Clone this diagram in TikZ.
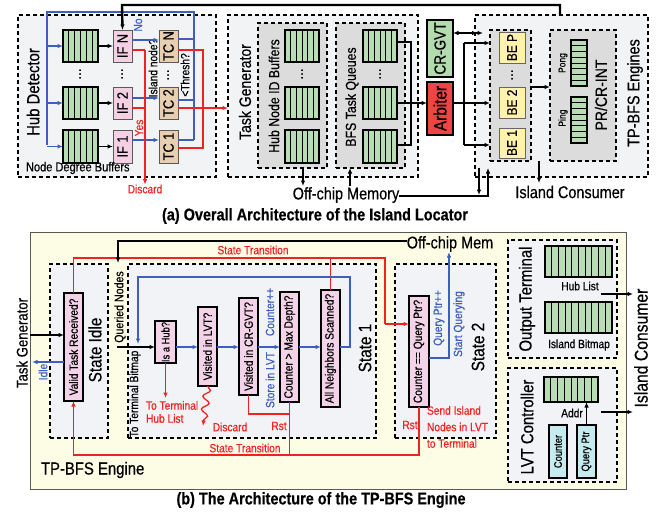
\documentclass[tikz,border=0pt]{standalone}
\usepackage{fontspec}
\setmainfont{Liberation Sans}[FakeStretch=0.85, FakeBold=0.45]
\usepackage{graphicx}
\usetikzlibrary{arrows.meta,calc,decorations.pathmorphing}
\newcommand\fsz[1]{\fontsize{#1}{#1}\selectfont}
\definecolor{pgray}{HTML}{F2F3F5}
\definecolor{igray}{HTML}{DCDCDC}
\definecolor{bgreen}{HTML}{B8DDB4}
\definecolor{ifpink}{HTML}{F3D0E4}
\definecolor{tctan}{HTML}{E8CFB2}
\definecolor{beyel}{HTML}{FFF2AE}
\definecolor{gvtgreen}{HTML}{B3DBAE}
\definecolor{arbred}{HTML}{EE4444}
\definecolor{engbg}{HTML}{FDFDE6}
\definecolor{stgray}{HTML}{F1F3F6}
\definecolor{decpink}{HTML}{F3D3E8}
\definecolor{cyanbox}{HTML}{C6EBEE}
\definecolor{myblue}{HTML}{3E5FBF}
\definecolor{myred}{HTML}{F22222}
\tikzset{
 base/.style={inner sep=0pt, outer sep=0pt, align=center},
 dbox/.style={base, draw=black, dash pattern=on 4pt off 3pt, line width=1.1pt, fill=pgray},
 ibox/.style={base, draw=black, dash pattern=on 4pt off 3pt, line width=1.1pt, fill=igray},
 sbox/.style={dbox, fill=stgray},
 engb/.style={base, draw=black!65, line width=1pt, fill=engbg},
 buf/.style={base, draw=black, line width=1.3pt, fill=bgreen},
 bufline/.style={line width=1pt},
 ifb/.style={base, draw=black!65, line width=1pt, fill=ifpink, font=\fsz{15}},
 tcb/.style={base, draw=black!65, line width=1pt, fill=tctan, font=\fsz{15}},
 beb/.style={base, draw=black!60, line width=1pt, fill=beyel, font=\fsz{14}},
 gvtb/.style={base, draw=black, line width=1.3pt, fill=gvtgreen, font=\fsz{16}},
 arbb/.style={base, draw=black, line width=1.3pt, fill=arbred, font=\fsz{18}},
 dec/.style={base, draw=black, line width=1.6pt, fill=decpink, font=\fsz{12}},
 cyb/.style={base, draw=black, line width=1.3pt, fill=cyanbox, font=\fsz{11}},
 lbl/.style={base, font=\fsz{#1}},
 lbl/.default=12,
 vlbl/.style={base, rotate=90, font=\fsz{#1}},
 vlbl/.default=12,
 arr/.style={-{Latex[length=5.5pt,width=4.5pt]}},
 bl/.style={draw=myblue, line width=1.3pt},
 rd/.style={draw=myred, line width=1.3pt},
 blk/.style={draw=black, line width=1.2pt},
 thk/.style={draw=black, line width=2.4pt},
}
\newcommand\rbox[7]{\node[#1, minimum width={#5pt-#3pt}, minimum height={#6pt-#4pt}] (#2) at ({(#3+#5)/2},{(#4+#6)/2}) {#7};}
\newcommand\bufh[6]{\rbox{buf}{#1}{#2}{#3}{#4}{#5}{}%
 \pgfmathtruncatemacro\nmm{#6-1}%
 \foreach \k in {1,...,\nmm}{\draw[bufline] ($(#1.south west)!{\k/#6}!(#1.south east)$) -- ($(#1.north west)!{\k/#6}!(#1.north east)$);}}
\newcommand\bufv[6]{\rbox{buf}{#1}{#2}{#3}{#4}{#5}{}%
 \pgfmathtruncatemacro\nmm{#6-1}%
 \foreach \k in {1,...,\nmm}{\draw[bufline] ($(#1.south west)!{\k/#6}!(#1.north west)$) -- ($(#1.south east)!{\k/#6}!(#1.north east)$);}}
\begin{document}
\begin{tikzpicture}[x=1pt,y=-1pt]
\useasboundingbox (0,0) rectangle (671,512);
% ================= (a) =================
\rbox{dbox}{hubD}{18}{15}{216}{177}{}
\rbox{dbox}{taskG}{228}{15}{418}{177}{}
\rbox{ibox}{hubNB}{258}{23}{327}{168}{}
\rbox{ibox}{bfsQ}{336}{23}{405}{168}{}
\rbox{dbox}{tpe}{475}{15}{648}{177}{}
\rbox{ibox}{beBox}{490}{30}{531}{161}{}
\rbox{ibox}{prBox}{550}{30}{616}{161}{}
% hub detector
\bufh{nb3}{63}{30}{98}{62}{6}
\bufh{nb2}{63}{87}{98}{119}{6}
\bufh{nb1}{63}{130}{98}{163}{6}
\rbox{ifb}{ifn}{113}{30}{132}{62}{\rotatebox{90}{IF N}}
\rbox{ifb}{if2}{113}{87}{132}{119}{\rotatebox{90}{IF 2}}
\rbox{ifb}{if1}{113}{130}{132}{163}{\rotatebox{90}{IF 1}}
\rbox{tcb}{tcn}{159}{30}{178}{62}{\rotatebox{90}{TC N}}
\rbox{tcb}{tc2}{159}{87}{178}{119}{\rotatebox{90}{TC 2}}
\rbox{tcb}{tc1}{159}{130}{178}{163}{\rotatebox{90}{TC 1}}
\node[vlbl=17.5] (hdl) at (33,92) {Hub Detector};
\node[lbl=13, anchor=west] (ndb) at (26,168) {Node Degree Buffers};
\node[vlbl=14] (dt1) at (80,74) {…};
\node[vlbl=14] (dt2) at (122,74) {…};
\node[vlbl=14] (dt3) at (168,75) {…};
\node[vlbl=12] (isl) at (153,68) {Island node?};
\node[vlbl=12] (thr) at (185,75) {<Thresh?};
\node[vlbl=12, text=myblue] (nol) at (138,25) {No};
\node[vlbl=12, text=myred] (yesl) at (139,128) {Yes};
\node[lbl=12, text=myred] (disc1) at (145,189) {Discard};
% blue paths
\draw[bl] (47,145) -- (47,12) -- (194,12) -- (194,140);
\draw[bl,arr] (47,0 |- nb3.west) -- (nb3.west);
\draw[bl,arr] (47,0 |- nb2.west) -- (nb2.west);
\draw[bl,arr] (47,0 |- nb1.west) -- (nb1.west);
\draw[bl,arr] (ifn.east |- 0,40) -- (tcn.west |- 0,40);
\draw[bl,arr] (if2.east |- 0,98) -- (tc2.west |- 0,98);
\draw[bl,arr] (if1.east |- 0,140) -- (tc1.west |- 0,140);
\draw[bl] (tcn.east |- 0,39) -- (194,39);
\draw[bl] (tc2.east |- 0,100) -- (194,100);
\draw[bl] (tc1.east |- 0,140) -- (194,140);
% black arrows
\draw[blk,arr] (nb3.east) -- (ifn.west);
\draw[blk,arr] (nb2.east) -- (if2.west);
\draw[blk,arr] (nb1.east) -- (if1.west);
% red paths
\draw[rd] (ifn.east |- 0,50) -- (145,50);
\draw[rd] (if2.east |- 0,108) -- (145,108);
\draw[rd,arr] (145,50) -- (disc1.north);
\draw[rd] (tcn.east |- 0,50) -- (203,50) -- (203,148) -- (tc1.east |- 0,148);
\draw[myred,line width=2pt,arr] (tc2.east |- 0,108) -- (taskG.west |- 0,108);
% task generator
\bufh{hb3}{285}{30}{319}{62}{6}
\bufh{hb2}{285}{87}{319}{119}{6}
\bufh{hb1}{285}{130}{319}{163}{6}
\bufh{q3}{363}{30}{397}{62}{6}
\bufh{q2}{363}{87}{397}{119}{6}
\bufh{q1}{363}{130}{397}{163}{6}
\node[vlbl=14] (dt4) at (302,74) {…};
\node[vlbl=14] (dt5) at (380,74) {…};
\node[vlbl=16.5] (tgl) at (245,92) {Task Generator};
\node[vlbl=14.5] (hnl) at (274,96) {Hub Node ID Buffers};
\node[vlbl=14.5] (bql) at (352,97) {BFS Task Queues};
\node[lbl=17] (mem) at (346,195) {Off-chip Memory};
\draw[blk] (q3.east |- 0,42) -- (411,42) -- (411,145) -- (q1.east |- 0,145);
\rbox{gvtb}{gvt}{427}{20}{453}{77}{\rotatebox{90}{CR-GVT}}
\rbox{arbb}{arb}{427}{82}{453}{135}{\rotatebox{90}{Arbiter}}
\draw[blk,arr] (q2.east |- 0,103) -- (arb.west |- 0,103);
\draw[blk,line width=1.6pt,arr] (hubNB.south -| 303,0) -- (303,186);
\draw[blk,line width=1.6pt,arr] (350,186) -- (bfsQ.south -| 350,0);
% TP-BFS engines
\rbox{beb}{beP}{499}{32}{525}{63}{\rotatebox{90}{BE P}}
\rbox{beb}{be2}{499}{87}{525}{118}{\rotatebox{90}{BE 2}}
\rbox{beb}{be1}{499}{128}{525}{158}{\rotatebox{90}{BE 1}}
\node[vlbl=14] (dt6) at (512,75) {…};
\bufv{ping}{571}{97}{587}{143}{8}
\bufv{pong}{571}{40}{587}{86}{8}
\node[vlbl=10] (pingl) at (563,118) {Ping};
\node[vlbl=10] (pongl) at (563,63) {Pong};
\node[vlbl=16.5] (prl) at (601,95) {PR/CR-INT};
\node[vlbl=17] (tpl) at (635,93) {TP-BFS Engines};
\node[lbl=17] (icl) at (570,192) {Island Consumer};
\draw[blk,{Latex[length=5.5pt,width=4.5pt]}-{Latex[length=5.5pt,width=4.5pt] Latex[length=5.5pt,width=4.5pt]}] (gvt.east |- 0,33) -- (483,33);
\draw[blk,line width=2pt] (arb.east |- 0,103) -- (464,103);
\draw[blk] (464,43) -- (464,145);
\draw[blk,arr] (464,43) -- (beBox.west |- 0,43);
\draw[blk,arr] (464,103) -- (beBox.west |- 0,103);
\draw[blk,arr] (464,145) -- (beBox.west |- 0,145);
\draw[blk,arr] (beBox.east |- 0,87) -- (prBox.west |- 0,87);
\draw[thk,arr] (539,161) -- (539,183);
\draw[thk,arr] (mem.east |- 0,196) -- (488,196) -- (488,168);
\draw[thk,arr] (479,168) -- (479,195);
\draw[thk,arr] (tpe.north -| 560,0) -- (560,5) -- (122,5) -- (ifn.north);
\node[lbl=17, font=\bfseries\fsz{17}] (capa) at (315,216) {(a) Overall Architecture of the Island Locator};
% ================= (b) =================
\rbox{engb}{eng}{30}{232}{626}{489}{}
\rbox{sbox}{stI}{50}{264}{108}{438}{}
\rbox{sbox}{st1}{128}{264}{376}{438}{}
\rbox{sbox}{st2}{395}{264}{496}{438}{}
\rbox{sbox}{outT}{508}{240}{617}{358}{}
\rbox{sbox}{lvtC}{508}{368}{617}{482}{}
\rbox{dec}{valid}{64}{293}{83}{401}{\rotatebox{90}{Valid Task Received?}}
\rbox{dec,font=\fsz{11}}{hub}{155}{321}{176}{363}{\rotatebox{90}{Is a Hub?}}
\rbox{dec}{vlvt}{198}{307}{217}{386}{\rotatebox{90}{Visited in LVT?}}
\rbox{dec}{vgvt}{239}{298}{258}{395}{\rotatebox{90}{Visited in CR-GVT?}}
\rbox{dec}{cmax}{280}{292}{299}{402}{\rotatebox{90}{Counter > Max Depth?}}
\rbox{dec}{alln}{321}{290}{340}{407}{\rotatebox{90}{All Neighbors Scanned?}}
\rbox{dec}{cq}{409}{296}{429}{407}{\rotatebox{90}{Counter == Query Ptr?}}
\bufh{hubl}{545}{246}{612}{277}{10}
\bufh{islb}{545}{302}{612}{333}{10}
\bufh{lvtb}{544}{377}{598}{402}{8}
\rbox{cyb}{cnt}{549}{425}{567}{478}{\rotatebox{90}{Counter}}
\rbox{cyb}{qpt}{577}{425}{596}{478}{\rotatebox{90}{Query Ptr}}
% labels
\node[vlbl=15.5] (tg2) at (22,343) {Task Generator};
\node[vlbl=12, text=myblue] (idl) at (43,372) {Idle};
\node[vlbl=18] (sil) at (95,350) {State Idle};
\node[vlbl=12.5] (qnl) at (120,307) {Queried Nodes};
\node[vlbl=12] (ttb) at (135,394) {To Terminal Bitmap};
\node[lbl=12, text=myred, anchor=north west, align=left] (thl) at (146,401) {To Terminal\\[1pt]Hub List};
\node[lbl=12, text=myred] (disc2) at (230,427) {Discard};
\node[vlbl=12, text=myblue] (cpp) at (270,312) {Counter++};
\node[vlbl=12, text=myblue] (sil2) at (270,380) {Store in LVT};
\node[lbl=12, text=myred] (rst1) at (279,426) {Rst};
\node[vlbl=18] (s1l) at (365,348) {State 1};
\node[lbl=12, text=myred] (stt1) at (253,250) {State Transition};
\node[lbl=12, text=myred] (stt2) at (245,448) {State Transition};
\node[lbl=17] (offm) at (450,244) {Off-chip Mem};
\node[vlbl=12, text=myblue] (qpp) at (439,318) {Query Ptr++};
\node[vlbl=12, text=myblue] (sq) at (459,324) {Start Querying};
\node[vlbl=18] (s2l) at (478,347) {State 2};
\node[lbl=12, text=myred] (rst2) at (410,425) {Rst};
\node[lbl=12, text=myred, anchor=north west, align=left] (sin) at (427,406) {Send Island\\[4.5pt]Nodes in LVT\\[4.5pt]to Terminal};
\node[vlbl=17.5] (otl) at (527,299) {Output Terminal};
\node[lbl=12] (hll) at (580,286) {Hub List};
\node[lbl=12] (ibl) at (579,345) {Island Bitmap};
\node[vlbl=17.5] (lcl) at (527,427) {LVT Controller};
\node[lbl=12] (adl) at (572,413) {Addr};
\node[vlbl=18.5] (icl2) at (641,348) {Island Consumer};
\node[lbl=17.5, anchor=west] (tpel) at (41,470) {TP-BFS Engine};
\node[lbl=17, font=\bfseries\fsz{17}] (capb) at (321,500) {(b) The Architecture of the TP-BFS Engine};
% connectors (b)
\draw[blk,arr] (eng.west |- 0,335) -- (valid.west |- 0,335);
\draw[bl,arr] (valid.west |- 0,362) -- (32,362);
\draw[rd] (valid.north) -- (valid.north |- 0,258) -- (385,258) -- (385,324);
\draw[rd,arr] (385,324) -- (cq.west |- 0,324);
\draw[rd] (alln.north) -- (alln.north |- 0,258);
\draw[rd,arr] (cq.south) -- (cq.south |- 0,455) -- (valid.south |- 0,455) -- (valid.south);
\draw[rd] (cmax.south) -- (cmax.south |- 0,455);
\draw[rd] (vgvt.south) -- (vgvt.south |- 0,414) -- (cmax.south |- 0,414);
\draw[blk,arr] (offm.west |- 0,241) -- (118,241) -- (118,263);
\coordinate (tbs) at (117,347);
\draw[blk,arr] (tbs) -- (hub.west |- 0,347);
\draw[bl,arr] (alln.east |- 0,347) -- (350,347) -- (350,277) -- (138,277) -- (138,344);
\draw[rd,arr] (hub.south) -- (hub.south |- 0,398);
\draw[rd,arr,decorate,decoration={snake,amplitude=3.5pt,segment length=13pt,post length=5pt}] (vlvt.south) -- (203,426);
\draw[bl,arr] (hub.east |- 0,347) -- (vlvt.west |- 0,347);
\draw[bl,arr] (vlvt.east |- 0,347) -- (vgvt.west |- 0,347);
\draw[bl,arr] (vgvt.east |- 0,347) -- (cmax.west |- 0,347);
\draw[bl,arr] (cmax.east |- 0,347) -- (alln.west |- 0,347);
\draw[bl,arr] (cq.east |- 0,358) -- (449,358) -- (449,252);
\coordinate (o1) at (601,294);
\coordinate (o2) at (601,412);
\draw[thk,arr] (o1) -- (633,294);
\draw[thk,arr] (o2) -- (633,412);
\draw[blk,arr] (qpt.north) -- (qpt.north |- lvtb.south);
\end{tikzpicture}
\end{document}
